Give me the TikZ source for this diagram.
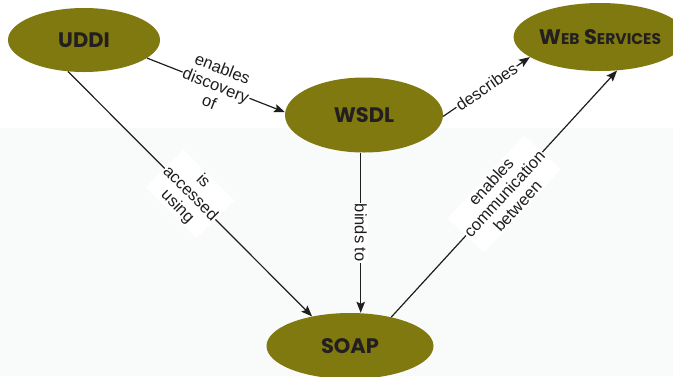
\documentclass[tikz,border=0pt]{standalone}
\usepackage{fontspec}
\setmainfont{Liberation Sans}
\newfontfamily\conceptfont{Poppins}[BoldFont={* Bold}]
\usetikzlibrary{arrows.meta,shapes.geometric}

\definecolor{olivefill}{RGB}{127,121,15}
\definecolor{conceptink}{RGB}{35,31,32}
\definecolor{lowerband}{RGB}{249,250,250}
\definecolor{linkink}{RGB}{30,30,30}

\tikzset{
  concept/.style={ellipse, fill=olivefill, inner sep=0pt,
    text=conceptink, font=\conceptfont\bfseries\fontsize{21}{23}\selectfont},
  link/.style={draw=linkink, line width=1.2pt,
    -{Stealth[length=11pt,width=8.5pt,inset=2pt]}},
  linklabel/.style={fill=white, inner sep=1pt, align=center, text=linkink,
    font=\fontsize{16.5}{18}\selectfont},
}

\begin{document}
\begin{tikzpicture}[x=1pt,y=-1pt]
  \useasboundingbox (0,0) rectangle (673,376);
  \fill[lowerband] (0,128) rectangle (673,376);

  % concepts
  \node[concept, minimum width=152pt, minimum height=64pt] (uddi) at (84,40) {UDDI};
  \node[concept, minimum width=158pt, minimum height=75pt] (wsdl) at (364,115) {WSDL};
  \node[concept, minimum width=144pt, minimum height=68pt] (ws) at (600,37)
    {W{\fontsize{15.5}{17}\selectfont EB} S{\fontsize{15.5}{17}\selectfont ERVICES}};
  \node[concept, minimum width=167pt, minimum height=66pt] (soap) at (350,346) {SOAP};

  % relations
  \draw[link] (uddi.-16) -- node[linklabel, sloped] {enables\\discovery\\of} (wsdl.178);
  \draw[link] (uddi.-117) -- node[linklabel, sloped] {is\\accessed\\using} (soap.142);
  \draw[link] (wsdl.-1) -- node[linklabel, sloped] {describes} (ws.196);
  \draw[link] (wsdl.265) -- node[linklabel, rotate=-90] {binds to} (wsdl.265 |- soap.north);
  \draw[link] (soap.35) -- node[linklabel, sloped] {enables\\communication\\between} (ws.-63);
\end{tikzpicture}
\end{document}
